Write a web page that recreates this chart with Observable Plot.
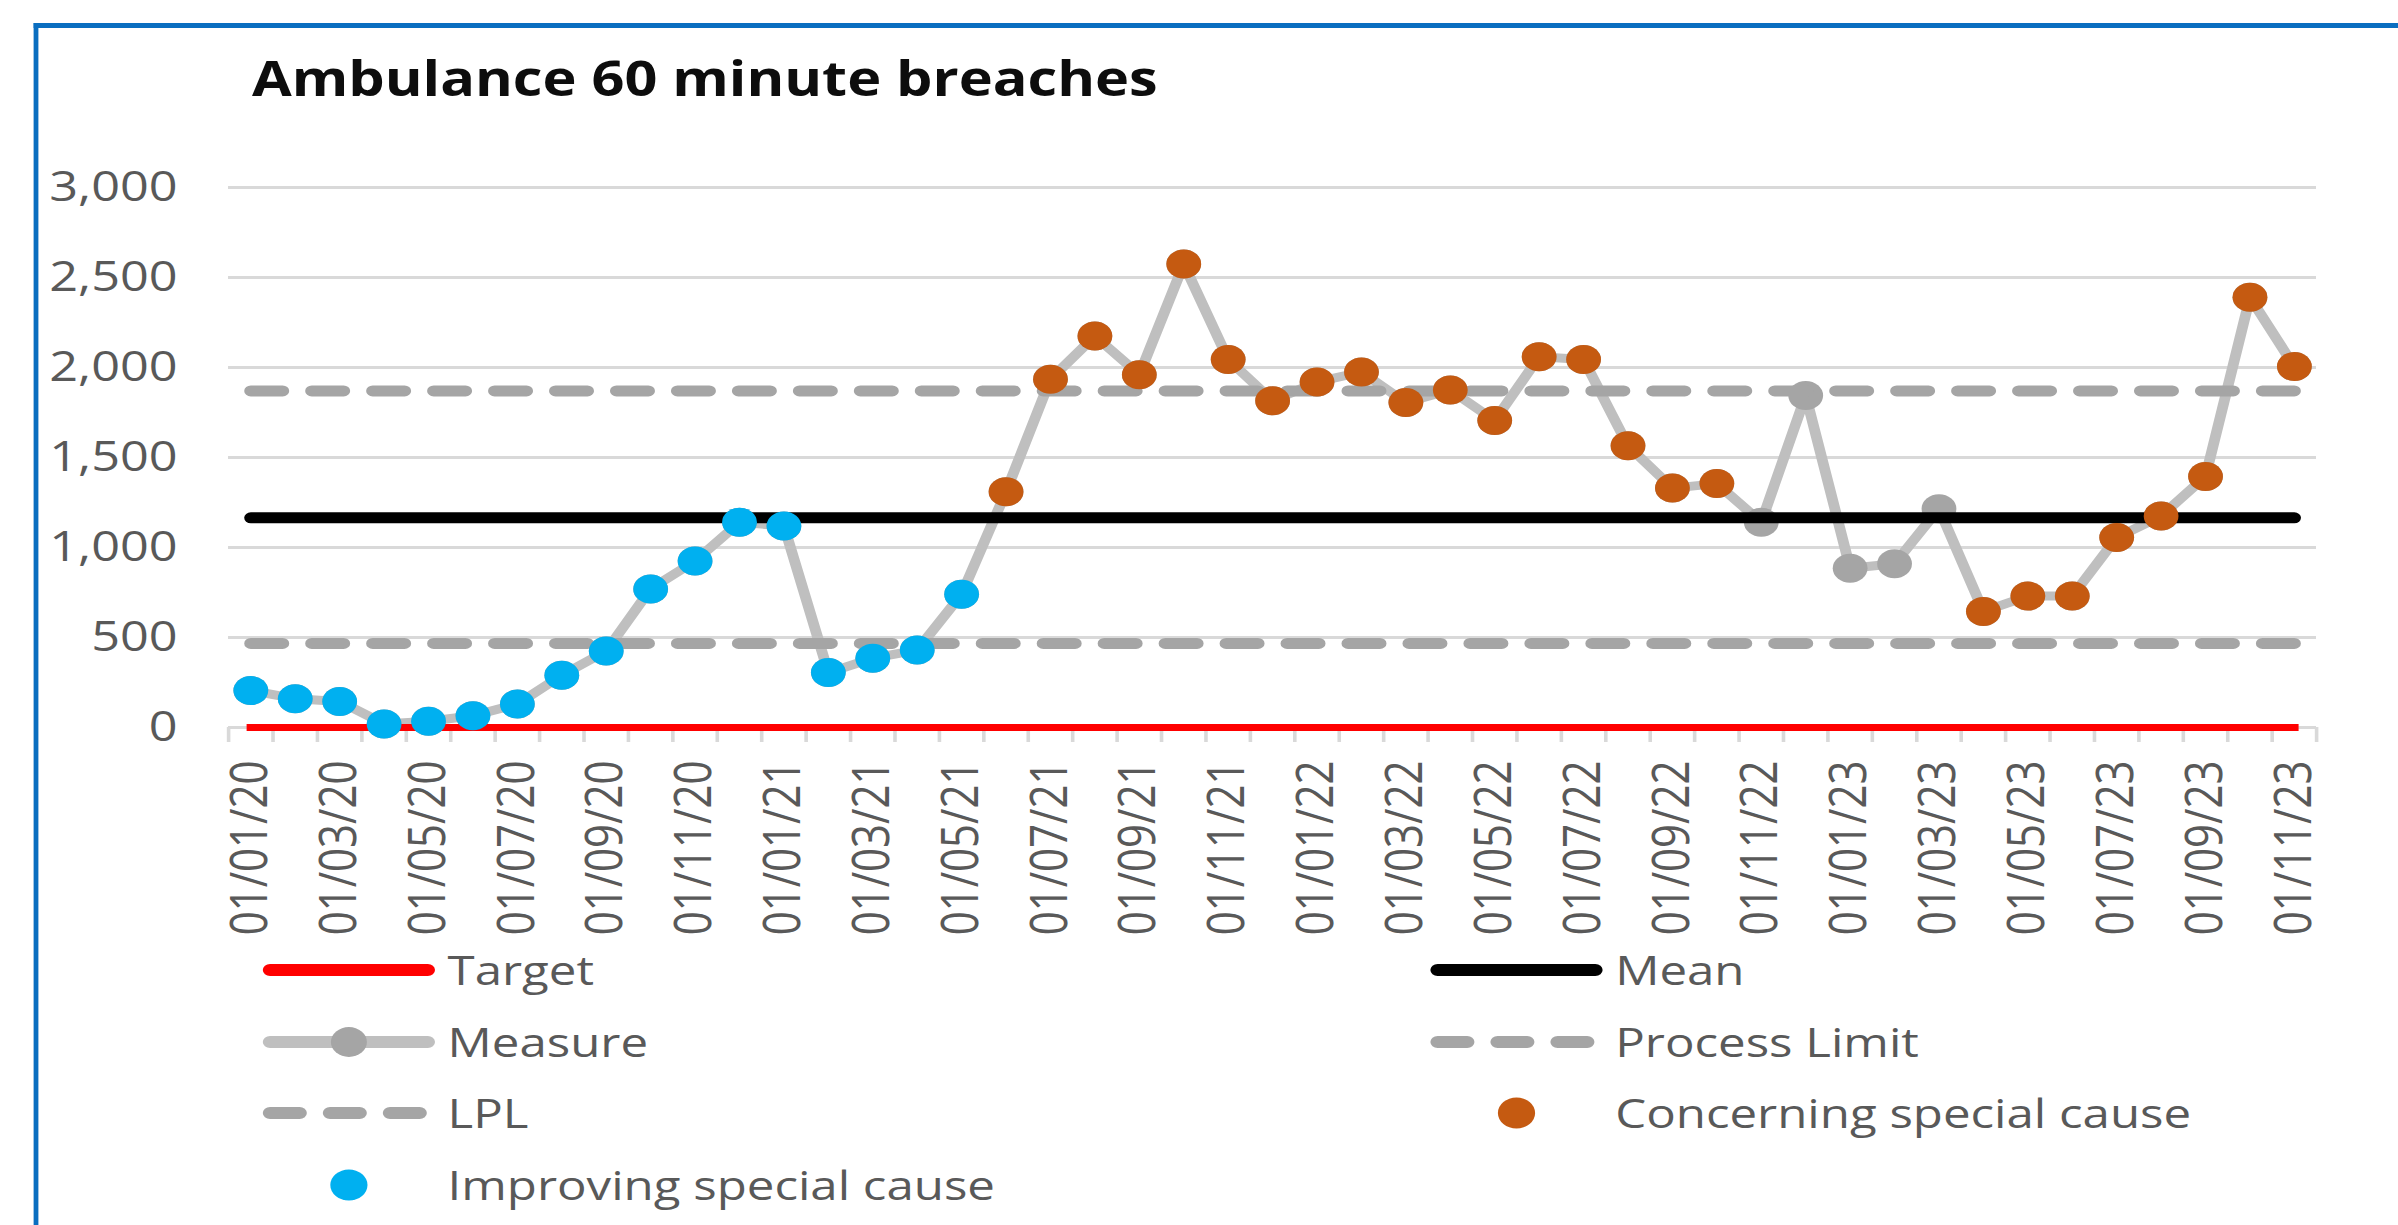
<!DOCTYPE html>
<html>
<head>
<meta charset="utf-8">
<script src="https://cdn.jsdelivr.net/npm/d3@7"></script>
<script src="https://cdn.jsdelivr.net/npm/@observablehq/plot@0.6"></script>
<style>
html,body{margin:0;padding:0;background:#fff;}
body{width:2398px;height:1225px;overflow:hidden;position:relative;font-family:"Open Sans",sans-serif;}
#stage{position:absolute;left:0;top:0;width:1998.333px;height:1225px;transform:scaleX(1.2);transform-origin:0 0;}
#frame{position:absolute;left:27.5px;top:23px;right:-20px;bottom:-20px;border-top:5px solid #0A6EC0;border-left:4.2px solid #0A6EC0;}
#title{position:absolute;left:210px;top:54.4px;font:700 48px/1 "Open Sans",sans-serif;color:#0d0d0d;white-space:nowrap;}
#chart{position:absolute;left:0;top:120px;}
#legend{position:absolute;left:0;top:930px;overflow:visible;}
</style>
</head>
<body>
<div id="stage">
  <div id="title">Ambulance 60 minute breaches</div>
  <div id="chart"></div>
  <svg id="legend" width="1998" height="295"></svg>
  <div id="frame"></div>
</div>
<script>
// ---- data ----
const months = [
  "01/01/20","01/02/20","01/03/20","01/04/20","01/05/20","01/06/20","01/07/20","01/08/20","01/09/20","01/10/20","01/11/20","01/12/20",
  "01/01/21","01/02/21","01/03/21","01/04/21","01/05/21","01/06/21","01/07/21","01/08/21","01/09/21","01/10/21","01/11/21","01/12/21",
  "01/01/22","01/02/22","01/03/22","01/04/22","01/05/22","01/06/22","01/07/22","01/08/22","01/09/22","01/10/22","01/11/22","01/12/22",
  "01/01/23","01/02/23","01/03/23","01/04/23","01/05/23","01/06/23","01/07/23","01/08/23","01/09/23","01/10/23","01/11/23"
];
const measure = [
  205,160,145,20,35,65,130,290,425,770,925,1140,
  1120,305,385,430,740,1310,1935,2175,1960,2575,2045,1815,
  1920,1975,1805,1875,1705,2060,2045,1565,1330,1355,1140,1845,
  885,910,1215,645,730,730,1055,1175,1395,2390,2005
];
// I = improving special cause, C = concerning special cause, N = common cause
const status = [
  "I","I","I","I","I","I","I","I","I","I","I","I",
  "I","I","I","I","I","C","C","C","C","C","C","C",
  "C","C","C","C","C","C","C","C","C","C","N","N",
  "N","N","N","C","C","C","C","C","C","C","C"
];
const targetValue = 0;
const meanValue = 1165;
const upperLimit = 1870;
const lowerLimit = 467;
const yTicks = [0, 500, 1000, 1500, 2000, 2500, 3000];
const xLabelEvery = 2;

const legendItems = [
  {label: "Target", kind: "line", color: "#FF0000", col: 0, row: 0},
  {label: "Mean", kind: "line", color: "#000000", col: 1, row: 0},
  {label: "Measure", kind: "lineDot", color: "#BFBFBF", dot: "#A5A5A5", col: 0, row: 1},
  {label: "Process Limit", kind: "dash", color: "#A5A5A5", col: 1, row: 1},
  {label: "LPL", kind: "dash", color: "#A5A5A5", col: 0, row: 2},
  {label: "Concerning special cause", kind: "dot", color: "#C55A11", col: 1, row: 2},
  {label: "Improving special cause", kind: "dot", color: "#00B0F0", col: 0, row: 3}
];

// ---- chart ----
const idx = d3.range(months.length);
const X = d => d;
const chart = Plot.plot({
  width: 1998,
  height: 830,
  marginLeft: 190,
  marginRight: 68,
  marginTop: 67,
  marginBottom: 223,
  x: {type: "linear", domain: [-0.5, months.length - 0.5]},
  y: {type: "linear", domain: [0, 3000]},
  style: {fontFamily: '"Open Sans", sans-serif', fontSize: "42px", color: "#595959", background: "transparent", overflow: "visible"},
  marks: [
    Plot.gridY(yTicks, {stroke: "#D9D9D9", strokeOpacity: 1, strokeWidth: 3}),
    Plot.axisY(yTicks, {tickSize: 0, tickPadding: 42.5, tickFormat: d3.format(","), fill: "#595959", label: null}),
    Plot.axisX(d3.range(-0.5, months.length), {tickSize: 15, stroke: "#D9D9D9", strokeOpacity: 1, strokeWidth: 3, tickFormat: () => "", label: null}),
    Plot.axisX(idx.filter(i => i % xLabelEvery === 0), {tickSize: 0, tickPadding: 33, tickRotate: -90, tickFormat: i => months[i], fill: "#595959", label: null}),
    Plot.line(idx, {x: X, y: d => measure[d], stroke: "#BFBFBF", strokeWidth: 9, strokeLinejoin: "round", strokeLinecap: "round"}),
    Plot.dot(idx, {x: X, y: d => measure[d], r: 14.5, fill: "#A5A5A5"}),
    Plot.line(idx, {x: X, y: () => targetValue, stroke: "#FF0000", strokeWidth: 7, strokeLinecap: "square"}),
    Plot.line(idx, {x: X, y: () => meanValue, stroke: "#000000", strokeWidth: 11, strokeLinecap: "round"}),
    Plot.line(idx, {x: X, y: () => upperLimit, stroke: "#A5A5A5", strokeWidth: 11, strokeDasharray: "26.5,24.3", strokeLinecap: "round"}),
    Plot.line(idx, {x: X, y: () => lowerLimit, stroke: "#A5A5A5", strokeWidth: 11, strokeDasharray: "26.5,24.3", strokeLinecap: "round"}),
    Plot.dot(idx.filter(d => status[d] === "C"), {x: X, y: d => measure[d], r: 14.5, fill: "#C55A11"}),
    Plot.dot(idx.filter(d => status[d] === "I"), {x: X, y: d => measure[d], r: 14.5, fill: "#00B0F0"})
  ]
});
document.getElementById("chart").appendChild(chart);

// ---- legend ----
const lg = d3.select("#legend");
const rowY = [40, 112, 183, 255];
const colX = [219, 1192];
const swW = 143.5;
const textGap = 10.5;
for (const it of legendItems) {
  const x0 = colX[it.col], y = rowY[it.row], cx = x0 + swW / 2;
  if (it.kind === "line" || it.kind === "lineDot") {
    lg.append("line").attr("x1", x0 + 6).attr("x2", x0 + swW - 6).attr("y1", y).attr("y2", y)
      .attr("stroke", it.color).attr("stroke-width", 12).attr("stroke-linecap", "round");
    if (it.kind === "lineDot") lg.append("circle").attr("cx", cx).attr("cy", y).attr("r", 15).attr("fill", it.dot);
  } else if (it.kind === "dash") {
    for (let k = 0; k < 3; k++) {
      lg.append("rect").attr("x", x0 + k * 50).attr("y", y - 6).attr("width", 36.7).attr("height", 12)
        .attr("rx", 6).attr("fill", it.color);
    }
  } else if (it.kind === "dot") {
    lg.append("circle").attr("cx", cx).attr("cy", y).attr("r", 15.5).attr("fill", it.color);
  }
  lg.append("text").attr("x", x0 + swW + textGap).attr("y", y + 15)
    .attr("font-family", '"Open Sans", sans-serif').attr("font-size", 41).attr("fill", "#595959")
    .text(it.label);
}
</script>
</body>
</html>
